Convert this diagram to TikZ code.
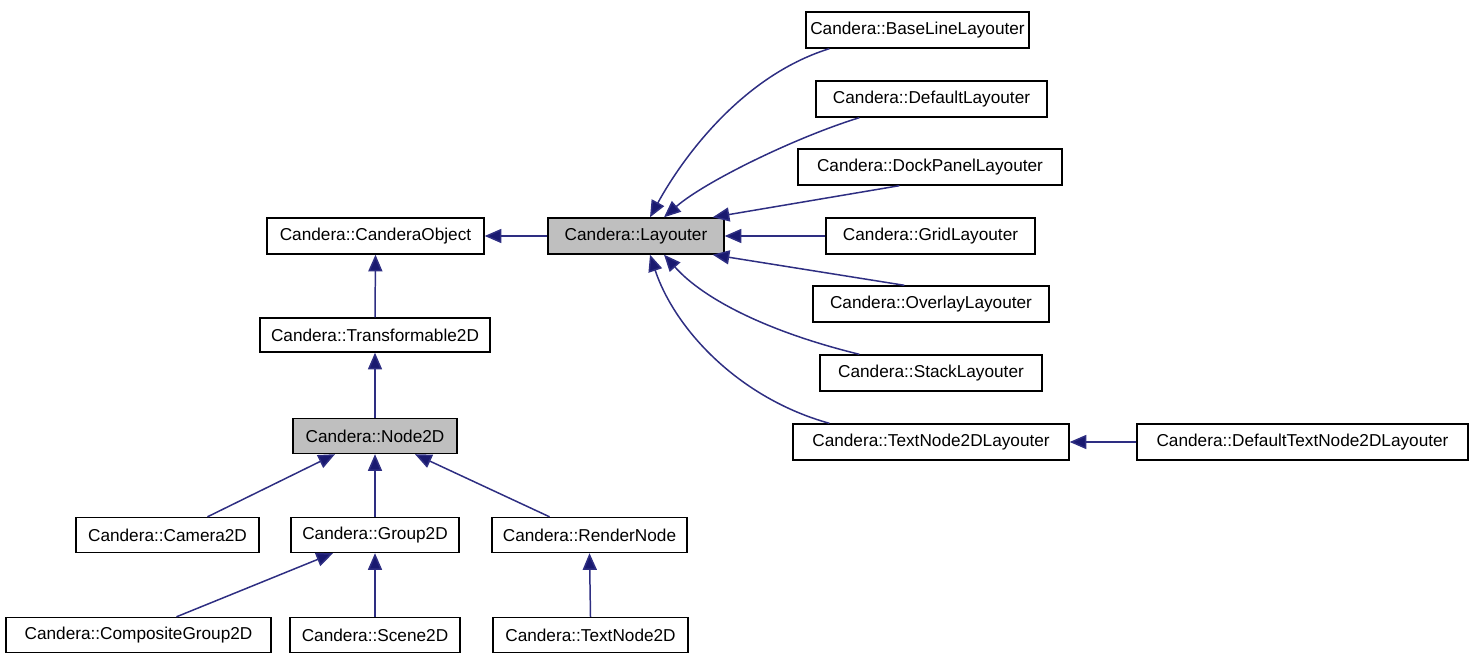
\documentclass[tikz,border=0pt]{standalone}
\usepackage{fontspec}
\setmainfont{Liberation Sans}
\usetikzlibrary{arrows.meta,calc}
\definecolor{edgeblue}{HTML}{191970}
\definecolor{edgeline}{HTML}{2E2E82}
\definecolor{boxgray}{HTML}{BFBFBF}
\begin{document}
\begin{tikzpicture}[x=0.02cm,y=-0.02cm,
  cls/.style={draw=black,line width=0.8pt,fill=white,font=\fontsize{9.8}{12}\selectfont,minimum height=0.72cm,inner sep=0pt},
  cur/.style={cls,fill=boxgray},
  inh/.style={draw=edgeline,line width=0.85pt,-{Triangle[length=9.5pt,width=8pt,fill=edgeblue]}}]
\useasboundingbox (0,0) rectangle (1477,661);
% right column
\node[cls,minimum width=4.46cm] (bl) at (917.5,30) {Candera::BaseLineLayouter};
\node[cls,minimum width=4.62cm] (dl) at (931.5,99) {Candera::DefaultLayouter};
\node[cls,minimum width=5.28cm] (dp) at (930,167) {Candera::DockPanelLayouter};
\node[cls,minimum width=4.18cm] (gl) at (930.5,236) {Candera::GridLayouter};
\node[cls,minimum width=4.72cm] (ol) at (931,304) {Candera::OverlayLayouter};
\node[cls,minimum width=4.44cm] (sl) at (931,373) {Candera::StackLayouter};
\node[cls,minimum width=5.52cm] (tl) at (931,442) {Candera::TextNode2DLayouter};
\node[cls,minimum width=6.62cm] (dtl) at (1302.5,442) {Candera::DefaultTextNode2DLayouter};
% middle
\node[cur,minimum width=3.52cm] (lay) at (636,236) {Candera::Layouter};
\node[cls,minimum width=4.34cm] (co) at (375.5,236) {Candera::CanderaObject};
\node[cls,minimum width=4.6cm,minimum height=0.68cm] (tf) at (375,335) {Candera::Transformable2D};
\node[cur,minimum width=3.28cm,minimum height=0.7cm] (n2d) at (375,436) {Candera::Node2D};
% lower
\node[cls,minimum width=3.66cm,minimum height=0.7cm] (cam) at (167.5,535) {Candera::Camera2D};
\node[cls,minimum width=3.36cm,minimum height=0.7cm] (grp) at (375,535) {Candera::Group2D};
\node[cls,minimum width=3.9cm,minimum height=0.7cm] (rn) at (589.5,535) {Candera::RenderNode};
\node[cls,minimum width=5.3cm,minimum height=0.7cm] (cg) at (138.5,635) {Candera::CompositeGroup2D};
\node[cls,minimum width=3.4cm,minimum height=0.7cm] (sc) at (375,635) {Candera::Scene2D};
\node[cls,minimum width=3.9cm,minimum height=0.7cm] (tn) at (590.5,635) {Candera::TextNode2D};
% edges to Layouter
\draw[inh] ($(bl.south west)+(24,0)$) .. controls +(-90,28) and +(30,-55) .. ($(lay.north)+(14,0)$);
\draw[inh] ($(dl.south west)+(44,0)$) .. controls +(-65,20) and +(40,-35) .. ($(lay.north)+(28,0)$);
\draw[inh] ($(dp.south west)+(102,0)$) -- ($(lay.north east)+(-12,0)$);
\draw[inh] (gl.west) -- (lay.east);
\draw[inh] ($(ol.north west)+(92,0)$) -- ($(lay.south east)+(-12,0)$);
\draw[inh] ($(sl.north west)+(40,0)$) .. controls +(-90,-22) and +(40,45) .. ($(lay.south)+(28,0)$);
\draw[inh] ($(tl.north west)+(37,0)$) .. controls +(-90,-25) and +(25,75) .. ($(lay.south)+(14,0)$);
\draw[inh] (dtl.west) -- (tl.east);
\draw[inh] (lay.west) -- (co.east);
% vertical chain
\draw[inh] (tf.north) -- (co.south);
\draw[inh] (n2d.north) -- (tf.south);
\draw[inh] ($(cam.north)+(40,0)$) -- ($(n2d.south)+(-40,0)$);
\draw[inh] (grp.north) -- (n2d.south);
\draw[inh] ($(rn.north)+(-40,0)$) -- ($(n2d.south)+(40,0)$);
\draw[inh] ($(cg.north)+(38,0)$) -- ($(grp.south)+(-42,0)$);
\draw[inh] (sc.north) -- (grp.south);
\draw[inh] (tn.north) -- (rn.south);
\end{tikzpicture}
\end{document}
